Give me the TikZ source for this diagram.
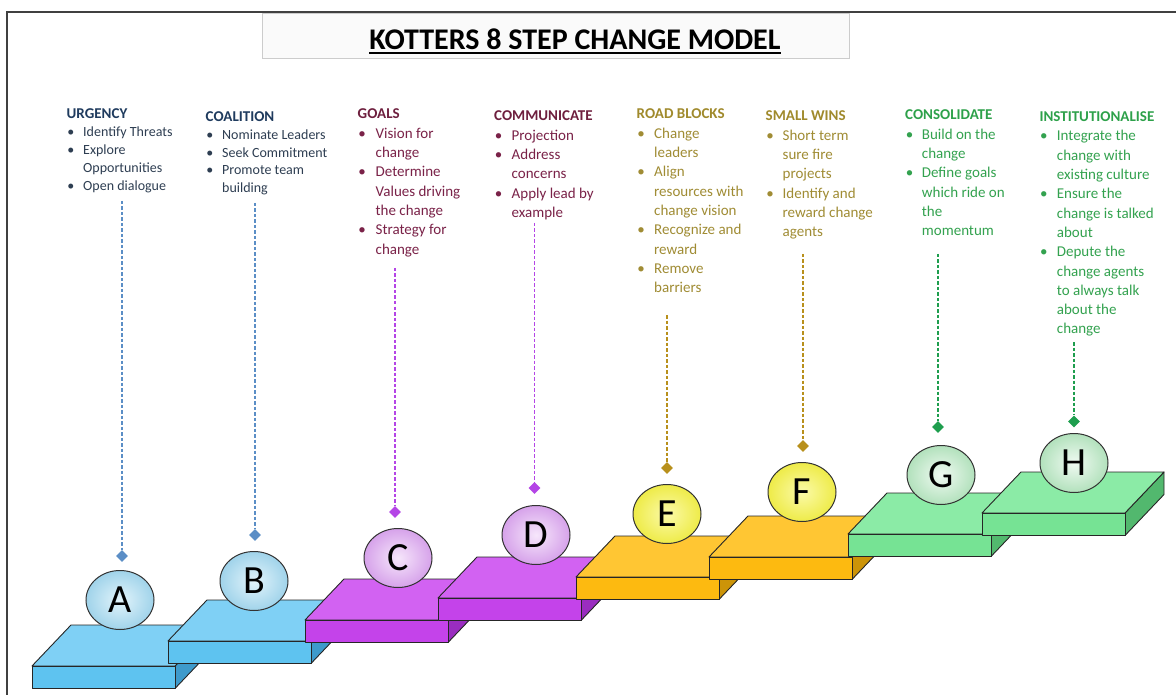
\documentclass[tikz,border=0pt]{standalone}
\usepackage{fontspec}
\setmainfont{Carlito}
\usepackage{array}
\usetikzlibrary{shapes.geometric}

% text colours
\definecolor{frameGray}{HTML}{404040}
\definecolor{blueHead}{HTML}{1F3B5E}
\definecolor{blueBody}{HTML}{2E3E52}
\definecolor{maroonHead}{HTML}{6E1F3E}
\definecolor{maroonBody}{HTML}{7A2248}
\definecolor{oliveHead}{HTML}{A08A2C}
\definecolor{oliveBody}{HTML}{A08C34}
\definecolor{greenHead}{HTML}{2DA14A}
\definecolor{greenBody}{HTML}{33A24F}
% connector colours
\definecolor{blueDash}{HTML}{5B8EC6}
\definecolor{purpleDash}{HTML}{B445E6}
\definecolor{goldDash}{HTML}{B8901C}
\definecolor{greenDash}{HTML}{1E9E4E}
% slab colours (top, front, side)
\definecolor{blueTop}{HTML}{7FD0F5}
\definecolor{blueFront}{HTML}{5EC3F0}
\definecolor{blueSide}{HTML}{3E9ACB}
\definecolor{purpleTop}{HTML}{D262F2}
\definecolor{purpleFront}{HTML}{C443EA}
\definecolor{purpleSide}{HTML}{9A2DC0}
\definecolor{orangeTop}{HTML}{FFC633}
\definecolor{orangeFront}{HTML}{FDBA10}
\definecolor{orangeSide}{HTML}{CC9408}
\definecolor{greenTop}{HTML}{8BEBA6}
\definecolor{greenFront}{HTML}{76E394}
\definecolor{greenSide}{HTML}{52B86E}
\definecolor{slabLine}{HTML}{262626}
% ball colours (inner, outer)
\definecolor{blueBallIn}{HTML}{E2F4FB}
\definecolor{blueBallOut}{HTML}{A0D3EA}
\definecolor{purpleBallIn}{HTML}{F6E6FB}
\definecolor{purpleBallOut}{HTML}{D6A2EA}
\definecolor{yellowBallIn}{HTML}{FBFAA8}
\definecolor{yellowBallOut}{HTML}{EEEB48}
\definecolor{greenBallIn}{HTML}{F0FAF2}
\definecolor{greenBallOut}{HTML}{B2E1BC}

% one step: #1,#2 = front-left top corner, #3 top, #4 front, #5 side colour
\newcommand\kslab[5]{%
  \filldraw[fill=#5, draw=slabLine, line width=0.9pt, line join=round]
    (#1+143,#2) -- (#1+182,#2-41) -- (#1+182,#2-18.5) -- (#1+143,#2+22.5) -- cycle;
  \filldraw[fill=#3, draw=slabLine, line width=0.9pt, line join=round]
    (#1,#2) -- (#1+143,#2) -- (#1+182,#2-41) -- (#1+39,#2-41) -- cycle;
  \filldraw[fill=#4, draw=slabLine, line width=0.9pt, line join=round]
    (#1,#2) rectangle (#1+143,#2+22.5);
}
% list helpers
\newcommand\khead[2]{\multicolumn{2}{@{}l@{}}{\fontsize{15}{18}\selectfont\bfseries\color{#1}#2}}
\newcommand\kb{\hspace{0.6pt}\textbullet}

\begin{document}
\begin{tikzpicture}[x=1pt,y=-1pt,
  listsmall/.style={inner sep=0pt, anchor=base west, font=\fontsize{14}{17.8}\selectfont},
  listbig/.style={inner sep=0pt, anchor=base west, font=\fontsize{15}{19.3}\selectfont},
  ball/.style={ellipse, minimum width=68pt, minimum height=59pt, inner sep=0pt,
    draw=black!80, line width=1pt, shading=radial, font=\fontsize{40}{40}\selectfont},
  marker/.style={diamond, minimum width=12pt, minimum height=12pt, inner sep=0pt, fill=#1},
  link/.style={draw=#1, line width=1.7pt, dash pattern=on 3.5pt off 2pt}
]
\useasboundingbox (0,0) rectangle (1176,695);
\fill[white] (0,0) rectangle (1176,695);

% frame
\draw[frameGray, line width=1.2pt] (7,695) -- (7,12) -- (1176,12);

% title
\filldraw[fill=black!2, draw=black!20, line width=0.8pt] (262,13) rectangle (849,58);
\node[inner sep=0pt, anchor=base, font=\fontsize{30}{36}\selectfont\bfseries] (title) at (575,49.3)
  {KOTTERS 8 STEP CHANGE MODEL};
\draw[line width=2.2pt] ([yshift=-3.6pt]title.base west) -- ([yshift=-3.6pt]title.base east);

% step lists
\node[listsmall, text=blueBody] (listA) at (66.5,119) {\begin{tabular}[t]{@{}p{16.5pt}@{}l@{}}
  \khead{blueHead}{URGENCY}\\
  \kb & Identify Threats\\
  \kb & Explore\\
      & Opportunities\\
  \kb & Open dialogue
\end{tabular}};
\node[listsmall, text=blueBody] (listB) at (205.5,121.5) {\begin{tabular}[t]{@{}p{16.5pt}@{}l@{}}
  \khead{blueHead}{COALITION}\\
  \kb & Nominate Leaders\\
  \kb & Seek Commitment\\
  \kb & Promote team\\
      & building
\end{tabular}};
\node[listbig, text=maroonBody] (listC) at (357.5,119) {\begin{tabular}[t]{@{}p{18pt}@{}l@{}}
  \khead{maroonHead}{GOALS}\\
  \kb & Vision for\\
      & change\\
  \kb & Determine\\
      & Values driving\\
      & the change\\
  \kb & Strategy for\\
      & change
\end{tabular}};
\node[listbig, text=maroonBody] (listD) at (494,121) {\begin{tabular}[t]{@{}p{17.5pt}@{}l@{}}
  \khead{maroonHead}{COMMUNICATE}\\
  \kb & Projection\\
  \kb & Address\\
      & concerns\\
  \kb & Apply lead by\\
      & example
\end{tabular}};
\node[listbig, text=oliveBody] (listE) at (636.5,119) {\begin{tabular}[t]{@{}p{17.5pt}@{}l@{}}
  \khead{oliveHead}{ROAD BLOCKS}\\
  \kb & Change\\
      & leaders\\
  \kb & Align\\
      & resources with\\
      & change vision\\
  \kb & Recognize and\\
      & reward\\
  \kb & Remove\\
      & barriers
\end{tabular}};
\node[listbig, text=oliveBody] (listF) at (765.5,121) {\begin{tabular}[t]{@{}p{17pt}@{}l@{}}
  \khead{oliveHead}{SMALL WINS}\\
  \kb & Short term\\
      & sure fire\\
      & projects\\
  \kb & Identify and\\
      & reward change\\
      & agents
\end{tabular}};
\node[listbig, text=greenBody] (listG) at (905,120) {\begin{tabular}[t]{@{}p{16.7pt}@{}l@{}}
  \khead{greenHead}{CONSOLIDATE}\\
  \kb & Build on the\\
      & change\\
  \kb & Define goals\\
      & which ride on\\
      & the\\
      & momentum
\end{tabular}};
\node[listbig, text=greenBody] (listH) at (1039.3,121.7) {\begin{tabular}[t]{@{}p{17.4pt}@{}l@{}}
  \khead{greenHead}{INSTITUTIONALISE}\\
  \kb & Integrate the\\
      & change with\\
      & existing culture\\
  \kb & Ensure the\\
      & change is talked\\
      & about\\
  \kb & Depute the\\
      & change agents\\
      & to always talk\\
      & about the\\
      & change
\end{tabular}};

% steps and balls
\kslab{32}{666}{blueTop}{blueFront}{blueSide}
\node[ball, inner color=blueBallIn, outer color=blueBallOut] (ballA) at (120,600) {A};
\kslab{168}{641}{blueTop}{blueFront}{blueSide}
\node[ball, inner color=blueBallIn, outer color=blueBallOut] (ballB) at (254,581) {B};
\kslab{305}{620}{purpleTop}{purpleFront}{purpleSide}
\node[ball, inner color=purpleBallIn, outer color=purpleBallOut] (ballC) at (398,558) {C};
\kslab{438}{598}{purpleTop}{purpleFront}{purpleSide}
\node[ball, inner color=purpleBallIn, outer color=purpleBallOut] (ballD) at (536,535) {D};
\kslab{576}{577}{orangeTop}{orangeFront}{orangeSide}
\node[ball, inner color=yellowBallIn, outer color=yellowBallOut] (ballE) at (667,514) {E};
\kslab{709}{557}{orangeTop}{orangeFront}{orangeSide}
\node[ball, inner color=yellowBallIn, outer color=yellowBallOut] (ballF) at (802,492) {F};
\kslab{848}{534}{greenTop}{greenFront}{greenSide}
\node[ball, inner color=greenBallIn, outer color=greenBallOut] (ballG) at (941,475) {G};
\kslab{982}{513}{greenTop}{greenFront}{greenSide}
\node[ball, inner color=greenBallIn, outer color=greenBallOut] (ballH) at (1074,463) {H};

% markers and dashed leaders
\node[marker=blueDash] (mkA) at (122,556) {};
\node[marker=blueDash] (mkB) at (255,535) {};
\node[marker=purpleDash] (mkC) at (395,512) {};
\node[marker=purpleDash] (mkD) at (534.5,488) {};
\node[marker=goldDash] (mkE) at (667,468) {};
\node[marker=goldDash] (mkF) at (803,446) {};
\node[marker=greenDash] (mkG) at (938,427) {};
\node[marker=greenDash] (mkH) at (1074,421.5) {};
\coordinate (topA) at (122,201);
\coordinate (topB) at (255,203);
\coordinate (topC) at (395,268);
\coordinate (topD) at (534.5,223);
\coordinate (topE) at (667,315);
\coordinate (topF) at (803,254);
\coordinate (topG) at (938,254);
\coordinate (topH) at (1074,342);
\draw[link=blueDash] (topA) -- (mkA);
\draw[link=blueDash] (topB) -- (mkB);
\draw[link=purpleDash] (topC) -- (mkC);
\draw[link=purpleDash] (topD) -- (mkD);
\draw[link=goldDash] (topE) -- (mkE);
\draw[link=goldDash] (topF) -- (mkF);
\draw[link=greenDash] (topG) -- (mkG);
\draw[link=greenDash] (topH) -- (mkH);
\end{tikzpicture}
\end{document}
